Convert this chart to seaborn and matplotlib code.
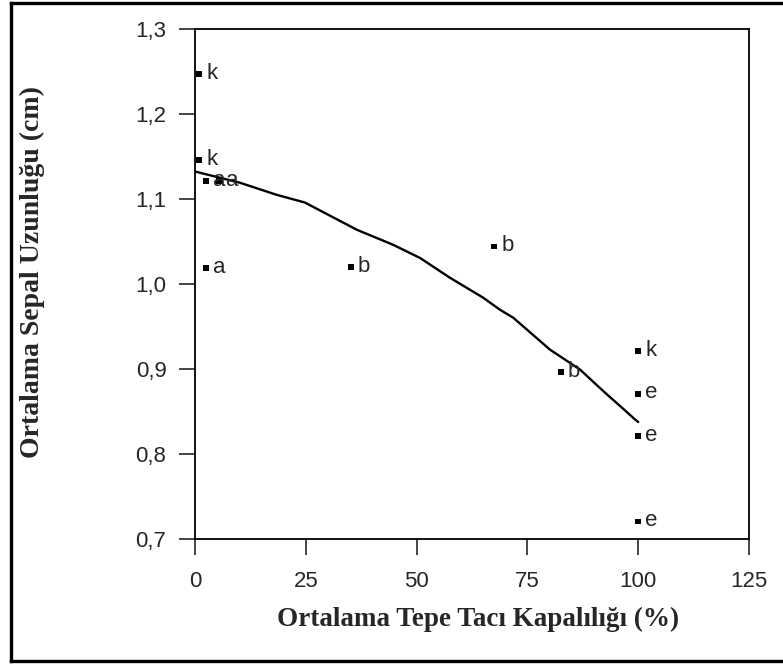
import numpy as np
import pandas as pd
import matplotlib
matplotlib.use('Agg')
import matplotlib.pyplot as plt
from matplotlib.lines import Line2D
from matplotlib.ticker import FuncFormatter
import seaborn as sns

# points with their group letters
pt_x = [1, 1, 2.5, 5.5, 2.5, 35.2, 67.5, 82.5, 100, 100, 100, 100]
pt_y = [1.2475, 1.1464, 1.121, 1.121, 1.019, 1.020, 1.0445, 0.8965, 0.921, 0.8714, 0.8213, 0.721]
pt_lab = ['k', 'k', 'a', 'a', 'a', 'b', 'b', 'b', 'k', 'e', 'e', 'e']

# fitted curve
fit_x = [0, 10.2, 18.4, 24.8, 36.5, 44.7, 50.8, 57.5, 65, 68.8, 71.8, 80.1, 86.9, 89.8, 93, 96.3, 99.3, 100]
fit_y = [1.1327, 1.1194, 1.1053, 1.0962, 1.0642, 1.0465, 1.0309, 1.0078, 0.9843, 0.9701, 0.9607,
         0.9231, 0.8996, 0.8855, 0.8702, 0.8550, 0.8409, 0.838]

x_ticks = [0, 25, 50, 75, 100, 125]
y_ticks = [0.7, 0.8, 0.9, 1.0, 1.1, 1.2, 1.3]

sns.set_style('white')
plt.rcParams['font.family'] = ['Liberation Sans', 'DejaVu Sans']

pts = pd.DataFrame({'x': pt_x, 'y': pt_y, 'lab': pt_lab})
fit = pd.DataFrame({'x': fit_x, 'y': fit_y})

fig = plt.figure(figsize=(7.83, 6.64), dpi=100)
ax = fig.add_axes([0.249, 0.1878, 0.7076, 0.7681])

sns.lineplot(data=fit, x='x', y='y', ax=ax, color='black', lw=1.7, sort=False)
sns.scatterplot(data=pts, x='x', y='y', ax=ax, marker='s', s=18, color='black',
                edgecolor='none')
for _, r in pts.iterrows():
    ax.annotate(r['lab'], (r['x'], r['y']), xytext=(5, -3.5), textcoords='offset points',
                fontsize=16, va='baseline', ha='left')

ax.set_xlim(0, 125)
ax.set_ylim(0.7, 1.3)
ax.set_xticks(x_ticks)
ax.set_yticks(y_ticks)
ax.yaxis.set_major_formatter(FuncFormatter(lambda v, p: f'{v:.1f}'.replace('.', ',')))
ax.tick_params(direction='out', length=11.5, width=1.2, labelsize=16, pad=9,
               left=True, bottom=True)
ax.tick_params(axis='x', pad=11)
for s in ax.spines.values():
    s.set_linewidth(1.3)
    s.set_color('black')

ax.set_xlabel('Ortalama Tepe Tacı Kapalılığı (%)', family='Liberation Serif',
              fontweight='bold', fontsize=19.5, va='center', ha='center')
ax.set_ylabel('Ortalama Sepal Uzunluğu (cm)', family='Liberation Serif',
              fontweight='bold', fontsize=20, va='center', ha='center')
ax.xaxis.set_label_coords(0.511, -0.158)
ax.yaxis.set_label_coords(-0.294, 0.524)

# outer frame: left, top and bottom only (right side is cut off in the original)
fx0, fy0, fy1 = 11 / 783, 3 / 664, 661 / 664
for xs, ys in [([fx0, fx0], [fy0, fy1]), ([fx0, 1.0], [fy1, fy1]), ([fx0, 1.0], [fy0, fy0])]:
    fig.add_artist(Line2D(xs, ys, transform=fig.transFigure, color='black', lw=2.4,
                          solid_capstyle='projecting'))

fig.savefig('out.png', dpi=100)
